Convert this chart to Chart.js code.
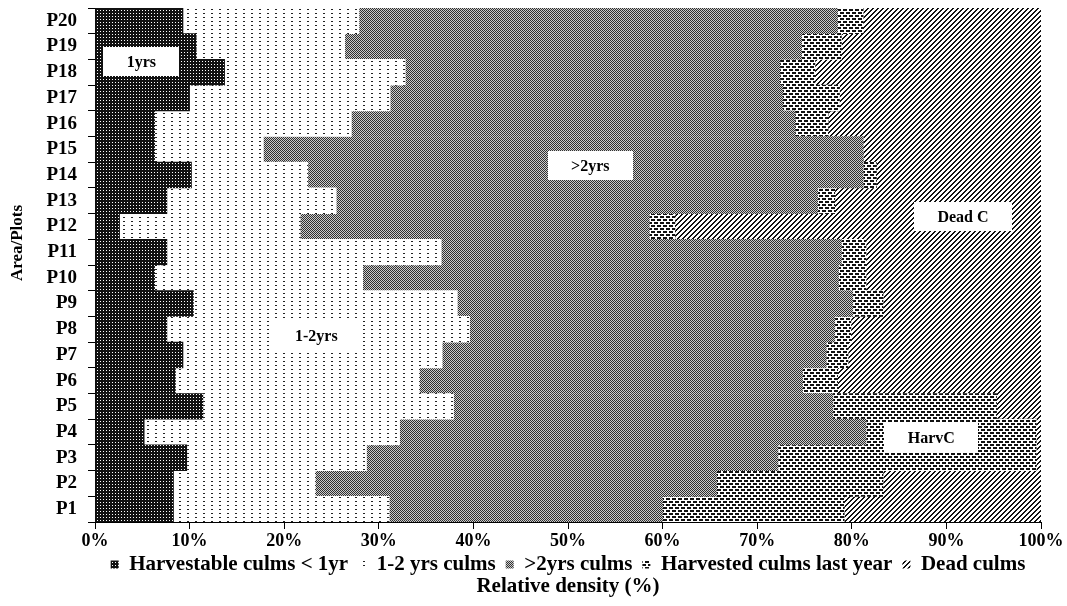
<!DOCTYPE html>
<html>
<head>
<meta charset="utf-8">
<script src="https://cdn.jsdelivr.net/npm/chart.js@4.4.0/dist/chart.umd.min.js"></script>
<style>
html,body{margin:0;padding:0;background:#fff;}
canvas{display:block;}
</style>
</head>
<body>
<canvas id="c" width="1067" height="606"></canvas>
<script>
// ---- data ----
const plots = ['P1','P2','P3','P4','P5','P6','P7','P8','P9','P10','P11','P12','P13','P14','P15','P16','P17','P18','P19','P20'];
const harvestable       = [8.3, 8.3, 9.7, 5.2, 11.4, 8.5, 9.3, 7.6, 10.4, 6.3, 7.6, 2.6, 7.6, 10.2, 6.3, 6.3, 10.0, 13.7, 10.7, 9.3];
const culms1to2         = [22.8, 15.0, 19.0, 27.0, 26.5, 25.8, 27.4, 32.0, 27.9, 22.0, 29.0, 19.1, 17.9, 12.3, 11.5, 20.8, 21.2, 19.1, 15.7, 18.6];
const culmsOver2        = [28.9, 42.4, 43.5, 49.3, 40.1, 40.5, 40.6, 38.6, 41.8, 50.3, 42.3, 36.9, 50.9, 58.7, 63.4, 46.9, 41.5, 39.6, 48.3, 50.6];
const harvestedLastYear = [19.2, 17.6, 27.3, 18.0, 17.3, 3.7, 2.3, 1.7, 3.2, 2.9, 2.6, 2.7, 1.8, 1.4, 0.0, 3.5, 6.0, 3.7, 4.2, 2.7];
const deadCulms         = [20.8, 16.7, 0.5, 0.5, 4.7, 21.5, 20.4, 20.1, 16.7, 18.5, 18.5, 38.7, 21.8, 17.4, 18.8, 22.5, 21.3, 23.9, 21.1, 18.8];
const seriesNames = ['Harvestable culms < 1yr', '1-2 yrs culms', '>2yrs culms', 'Harvested culms last year', 'Dead culms'];
const xTickSuffix = '%';
const xTitle = 'Relative density (%)';
const yTitle = 'Area/Plots';
// in-chart labels (value %, fractional category index)
const noteTexts = ['1yrs', '1-2yrs', '>2yrs', 'Dead C', 'HarvC'];
const noteX = [4.9, 23.4, 52.35, 91.75, 88.4];
const noteY = [17.42, 6.74, 13.37, 11.39, 2.77];

// ---- patterns ----
const canvas = document.getElementById('c');
const mainCtx = canvas.getContext('2d');
function makePattern(w, h, bg, fg, fn) {
  const t = document.createElement('canvas');
  t.width = w; t.height = h;
  const x = t.getContext('2d');
  x.fillStyle = bg; x.fillRect(0, 0, w, h);
  x.fillStyle = fg;
  for (let i = 0; i < w; i++) for (let j = 0; j < h; j++) if (fn(i, j)) x.fillRect(i, j, 1, 1);
  return mainCtx.createPattern(t, 'repeat');
}
const patHarvestable = makePattern(3, 3, '#111111', '#ffffff', (i, j) => i === 1 && j === 1);
const pat12 = makePattern(8, 4, '#ffffff', '#222222', (i, j) => j === 1 && (i === 3 || i === 4));
const patOver2 = makePattern(2, 2, '#cccccc', '#303030', (i, j) => (i + j) % 2 === 0);
const patHarvested = makePattern(6, 6, '#ffffff', '#111111',
  (i, j) => (i <= 3 && j <= 1) || ((i >= 3 || i === 0) && j >= 3 && j <= 4));
const patDead = makePattern(5, 5, '#ffffff', '#111111', (i, j) => ((i + j) % 5 === 0) || ((i + j) % 5 === 1));

const FONT = '"Liberation Serif", "Times New Roman", serif';

const notesPlugin = {
  id: 'notes',
  afterLayout(chart) {
    const lg = chart.legend;
    if (lg) { lg.top -= 10; lg.bottom -= 10; }
  },
  afterDatasetsDraw(chart) {
    const {ctx, scales: {x, y}} = chart;
    ctx.save();
    ctx.font = 'bold 16px ' + FONT;
    ctx.textAlign = 'center';
    ctx.textBaseline = 'middle';
    noteTexts.forEach((t, i) => {
      const px = x.getPixelForValue(noteX[i]);
      const py = y.getPixelForValue(noteY[i]);
      const w = ctx.measureText(t).width + 47;
      const h = 29;
      ctx.fillStyle = '#ffffff';
      ctx.fillRect(Math.round(px - w / 2), Math.round(py - h / 2), Math.round(w), h);
      ctx.fillStyle = '#000000';
      ctx.fillText(t, px, py + 1);
    });
    ctx.restore();
  },
  afterDraw(chart) {
    const {ctx, chartArea} = chart;
    ctx.save();
    ctx.fillStyle = '#000';
    ctx.textAlign = 'center';
    ctx.textBaseline = 'middle';
    ctx.font = 'bold 17px ' + FONT;
    ctx.translate(18, (chartArea.top + chartArea.bottom) / 2 - 22);
    ctx.rotate(-Math.PI / 2);
    ctx.fillText(yTitle, 0, 0);
    ctx.restore();
    ctx.save();
    ctx.fillStyle = '#000';
    ctx.textAlign = 'center';
    ctx.textBaseline = 'middle';
    ctx.font = 'bold 21px ' + FONT;
    ctx.fillText(xTitle, 568, chartArea.bottom + 65);
    ctx.restore();
  }
};

new Chart(canvas, {
  type: 'bar',
  data: {
    labels: plots,
    datasets: [
      {label: seriesNames[0], data: harvestable, backgroundColor: patHarvestable},
      {label: seriesNames[1], data: culms1to2, backgroundColor: pat12},
      {label: seriesNames[2], data: culmsOver2, backgroundColor: patOver2},
      {label: seriesNames[3], data: harvestedLastYear, backgroundColor: patHarvested},
      {label: seriesNames[4], data: deadCulms, backgroundColor: patDead}
    ]
  },
  options: {
    indexAxis: 'y',
    responsive: false,
    animation: false,
    layout: {padding: {top: 8, right: 26, bottom: 11, left: 0}},
    datasets: {bar: {barPercentage: 1, categoryPercentage: 1, borderWidth: 0}},
    scales: {
      x: {
        stacked: true, min: 0, max: 100,
        ticks: {stepSize: 10, autoSkip: false, maxRotation: 0, padding: 2, color: '#000',
          callback: v => v + xTickSuffix,
          font: {family: FONT, weight: 'bold', size: 18}},
        grid: {drawOnChartArea: false, drawTicks: true, tickLength: 7, color: '#000'},
        border: {color: '#000', width: 1},
        afterFit(s) { s.height = 32; }
      },
      y: {
        stacked: true, reverse: true,
        ticks: {autoSkip: false, padding: 11, color: '#000',
          font: {family: FONT, weight: 'bold', size: 19}},
        grid: {drawOnChartArea: false, drawTicks: true, tickLength: 7, color: '#000', offset: true},
        border: {color: '#000', width: 1},
        afterFit(s) { s.width = 95; s.paddingTop = 0; s.paddingBottom = 0; }
      }
    },
    plugins: {
      legend: {
        position: 'bottom', fullSize: false,
        labels: {boxWidth: 8, boxHeight: 8, padding: 10, color: '#000',
          font: {family: FONT, weight: 'bold', size: 21}}
      },
      title: {display: false},
      tooltip: {enabled: false}
    }
  },
  plugins: [notesPlugin]
});
</script>
</body>
</html>
